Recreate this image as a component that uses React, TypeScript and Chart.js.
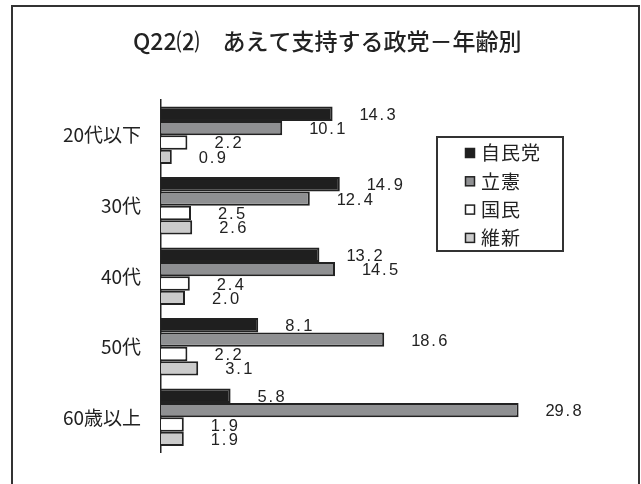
import React, { useEffect, useRef } from 'react';
import { Chart, registerables } from 'chart.js';

Chart.register(...registerables);

const TITLE = 'Q22⑵　あえて支持する政党－年齢別';
const categories = ['20代以下', '30代', '40代', '50代', '60歳以上'];
const seriesNames = ['自民党', '立憲', '国民', '維新'];
const ldpValues = [14.3, 14.9, 13.2, 8.1, 5.8];
const cdpValues = [10.1, 12.4, 14.5, 18.6, 29.8];
const dpfpValues = [2.2, 2.5, 2.4, 2.2, 1.9];
const ishinValues = [0.9, 2.6, 2.0, 3.1, 1.9];
const seriesColors = ['#1f1f1f', '#8f9092', '#ffffff', '#cbcbcb'];

const JP = '"Noto Sans CJK JP", "Noto Sans", sans-serif';

const framePlugin = {
  id: 'frameAndTitle',
  beforeDraw(chart: any) {
    const ctx = chart.ctx as CanvasRenderingContext2D;
    ctx.save();
    ctx.fillStyle = '#ffffff';
    ctx.fillRect(0, 0, chart.width, chart.height);
    ctx.strokeStyle = '#333333';
    ctx.lineWidth = 2;
    ctx.strokeRect(12, 6, 627, 520);
    ctx.fillStyle = '#222222';
    ctx.font = `500 23px ${JP}`;
    ctx.textAlign = 'left';
    ctx.textBaseline = 'middle';
    ctx.fillText(TITLE, 133, 41);
    ctx.restore();
  },
};

const valueLabelPlugin = {
  id: 'valueLabels',
  afterDatasetsDraw(chart: any) {
    const ctx = chart.ctx as CanvasRenderingContext2D;
    ctx.save();
    ctx.fillStyle = '#222222';
    ctx.font = '16.5px "Liberation Sans", sans-serif';
    ctx.textAlign = 'left';
    ctx.textBaseline = 'middle';
    chart.data.datasets.forEach((ds: any, i: number) => {
      const meta = chart.getDatasetMeta(i);
      meta.data.forEach((bar: any, j: number) => {
        const text = (ds.data[j] as number).toFixed(1);
        const x0 = bar.x + 27;
        for (let k = 0; k < text.length; k++) {
          const ch = text[k];
          const cx = x0 + k * 9 + (ch === '.' ? 2 : 0);
          ctx.fillText(ch, cx, bar.y + 1.5);
        }
      });
    });
    ctx.restore();
  },
};

const legendPlugin = {
  id: 'boxLegend',
  afterDraw(chart: any) {
    const ctx = chart.ctx as CanvasRenderingContext2D;
    ctx.save();
    ctx.strokeStyle = '#333333';
    ctx.lineWidth = 2;
    ctx.strokeRect(437, 137, 126, 114);
    ctx.font = `19px ${JP}`;
    (ctx as any).letterSpacing = '1px';
    ctx.textAlign = 'left';
    ctx.textBaseline = 'middle';
    chart.data.datasets.forEach((ds: any, i: number) => {
      const y = 153 + i * 28.3;
      ctx.fillStyle = ds.backgroundColor;
      ctx.fillRect(465.5, y - 4.5, 9, 9);
      ctx.lineWidth = 1.5;
      ctx.strokeStyle = '#222222';
      ctx.strokeRect(465.5, y - 4.5, 9, 9);
      ctx.fillStyle = '#222222';
      ctx.fillText(ds.label, 481, y);
    });
    ctx.restore();
  },
};

export default function App() {
  const canvasRef = useRef<HTMLCanvasElement | null>(null);

  useEffect(() => {
    if (!canvasRef.current) return;
    const seriesValues = [ldpValues, cdpValues, dpfpValues, ishinValues];
    const chart = new Chart(canvasRef.current, {
      type: 'bar',
      data: {
        labels: categories,
        datasets: seriesNames.map((name, i) => ({
          label: name,
          data: seriesValues[i],
          backgroundColor: seriesColors[i],
          borderColor: '#222222',
          borderWidth: 2,
          borderSkipped: 'start',
          categoryPercentage: 0.815,
          barPercentage: 1.0,
        })),
      },
      options: {
        indexAxis: 'y',
        responsive: false,
        animation: false,
        layout: { padding: { top: 100, bottom: 16, left: 0, right: 24 } },
        plugins: {
          legend: { display: false },
          title: { display: false },
          tooltip: { enabled: false },
        },
        scales: {
          x: { display: false, min: 0, max: 38 },
          y: {
            grid: { display: false, drawTicks: false },
            border: { display: true, color: '#222222', width: 1.5 },
            ticks: {
              padding: 20,
              color: '#222222',
              font: { family: JP, size: 19 },
            },
            afterFit: (scale: any) => {
              scale.width = 161;
            },
          },
        },
      },
      plugins: [framePlugin, valueLabelPlugin, legendPlugin],
    } as any);
    return () => chart.destroy();
  }, []);

  return (
    <div style={{ position: 'fixed', left: 0, top: 0, width: 641, height: 484 }}>
      <canvas ref={canvasRef} width={641} height={484} style={{ display: 'block' }} />
    </div>
  );
}
